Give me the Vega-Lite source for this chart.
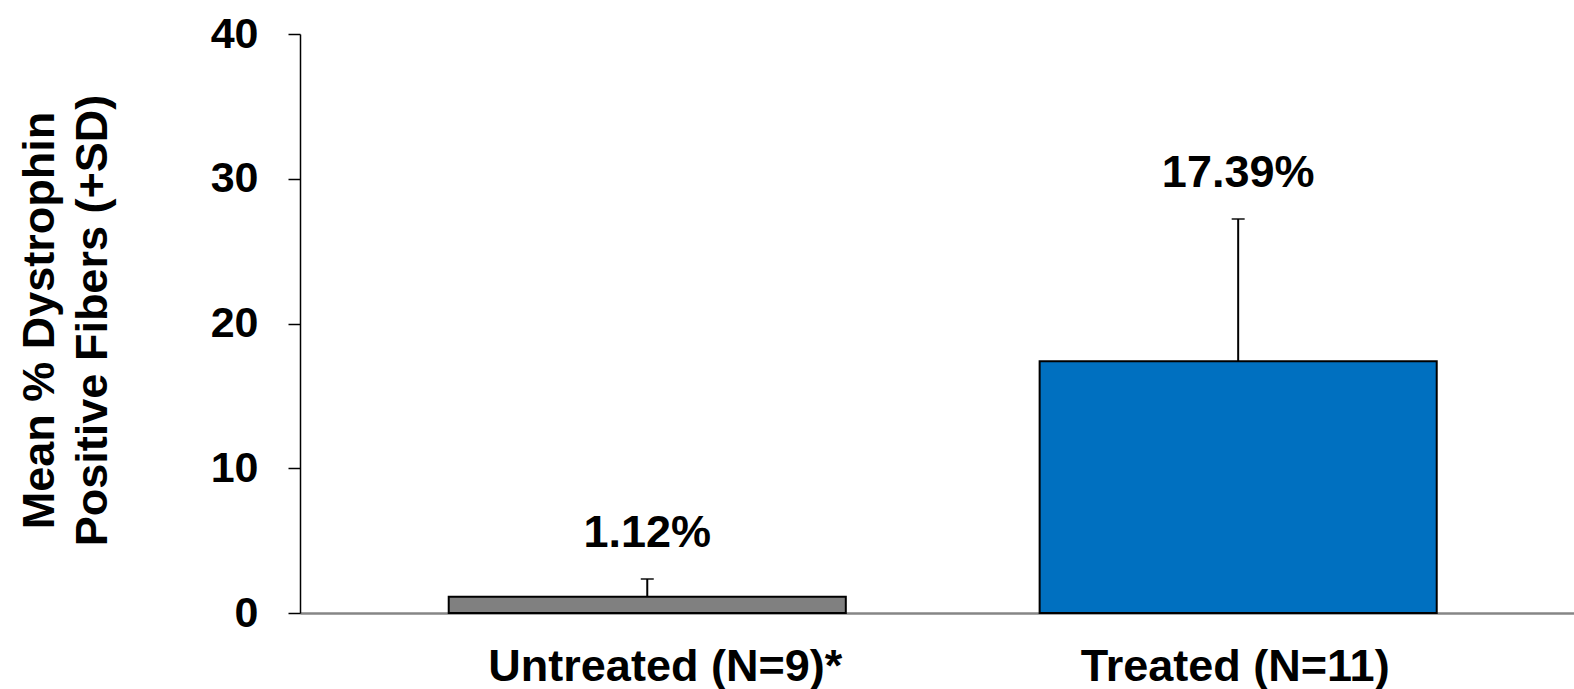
{
  "$schema": "https://vega.github.io/schema/vega-lite/v6.json",
  "width": 1274,
  "height": 579,
  "autosize": {"type": "none"},
  "padding": {"left": 300, "top": 34, "right": 0, "bottom": 76},
  "background": "white",
  "config": {
    "view": {"stroke": null},
    "font": "Liberation Sans"
  },
  "data": {
    "values": [
      {"group": "Untreated (N=9)*", "mean": 1.12, "upper": 2.35, "label": "1.12%"},
      {"group": "Treated (N=11)", "mean": 17.39, "upper": 27.22, "label": "17.39%"}
    ]
  },
  "encoding": {
    "x": {
      "field": "group",
      "type": "nominal",
      "sort": ["Untreated (N=9)*", "Treated (N=11)"],
      "scale": {"paddingInner": 0.328, "paddingOuter": 0.242, "align": 0.52},
      "axis": {
        "title": null,
        "labelAngle": 0,
        "labelFont": "Liberation Sans",
        "labelFontSize": 45,
        "labelFontWeight": "bold",
        "labelColor": "black",
        "labelPadding": 31,
        "labelOffset": {"condition": {"test": "datum.value === 'Untreated (N=9)*'", "value": 18}, "value": -3},
        "ticks": false,
        "tickSize": 0,
        "domainColor": "#868686",
        "domainWidth": 2.5,
        "labelLimit": 0
      }
    }
  },
  "layer": [
    {
      "mark": {"type": "bar", "stroke": "black", "strokeWidth": 2},
      "encoding": {
        "y": {
          "field": "mean",
          "type": "quantitative",
          "scale": {"domain": [0, 40], "nice": false},
          "axis": {
            "values": [0, 10, 20, 30, 40],
            "grid": false,
            "title": ["Mean % Dystrophin", "Positive Fibers (+SD)"],
            "titleFont": "Liberation Sans",
            "titleFontSize": 45,
            "titleFontWeight": "bold",
            "titleColor": "black",
            "titleAngle": -90,
            "titleAlign": "center",
            "titleBaseline": "alphabetic",
            "titleLineHeight": 53,
            "titleX": -247,
            "titleY": 286,
            "labelFont": "Liberation Sans",
            "labelFontSize": 43,
            "labelFontWeight": "bold",
            "labelColor": "black",
            "labelPadding": 30,
            "tickSize": 12,
            "tickColor": "black",
            "tickWidth": 1.5,
            "domainColor": "black",
            "domainWidth": 1.5
          }
        },
        "color": {
          "field": "group",
          "type": "nominal",
          "scale": {"domain": ["Untreated (N=9)*", "Treated (N=11)"], "range": ["#808080", "#0070C0"]},
          "legend": null
        }
      }
    },
    {
      "mark": {"type": "rule", "color": "black", "strokeWidth": 2},
      "encoding": {
        "y": {"field": "mean", "type": "quantitative"},
        "y2": {"field": "upper"}
      }
    },
    {
      "mark": {"type": "tick", "color": "black", "thickness": 2, "size": 13, "orient": "horizontal"},
      "encoding": {
        "y": {"field": "upper", "type": "quantitative"}
      }
    },
    {
      "mark": {"type": "text", "font": "Liberation Sans", "fontSize": 45, "fontWeight": "bold", "color": "black", "baseline": "alphabetic", "dy": -32},
      "encoding": {
        "y": {"field": "upper", "type": "quantitative"},
        "text": {"field": "label", "type": "nominal"}
      }
    }
  ]
}
